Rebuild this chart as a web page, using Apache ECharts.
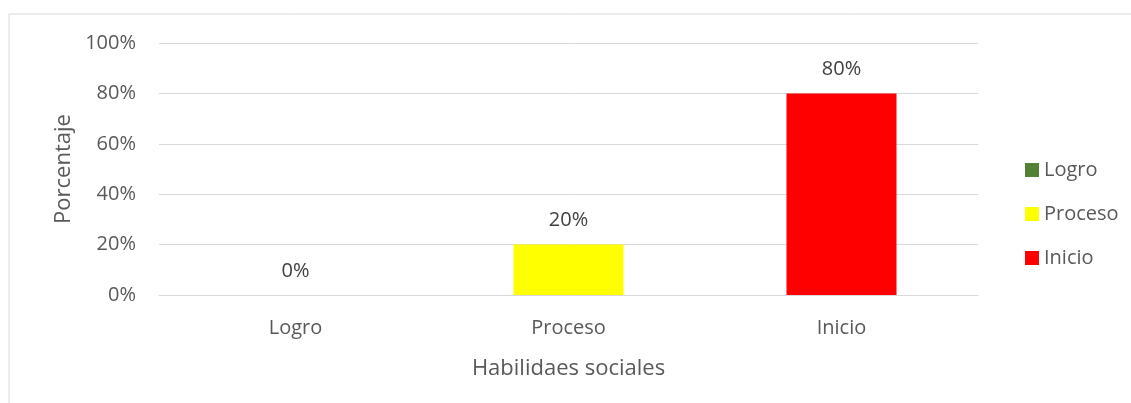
<!DOCTYPE html>
<html>
<head>
<meta charset="utf-8">
<script src="https://cdn.jsdelivr.net/npm/echarts@6/dist/echarts.min.js"></script>
<style>
  html, body { margin: 0; padding: 0; background: #fff; }
  #chart { width: 1131px; height: 403px; }
</style>
</head>
<body>
<div id="chart"></div>
<script>
const categories = ['Logro', 'Proceso', 'Inicio']
const values = [0, 20, 80]
const colors = ['#548235', '#ffff00', '#ff0000']
const yTicks = [0, 20, 40, 60, 80, 100]

const font = 'Open Sans'
const textColor = '#595959'

const chart = echarts.init(document.getElementById('chart'))

// one series per category so the legend gets an entry for each; stacked to keep bars centred
const series = categories.map((name, i) => ({
  name,
  type: 'bar',
  stack: 'all',
  barWidth: 110,
  itemStyle: { color: colors[i] },
  label: {
    show: true,
    position: 'top',
    distance: 14,
    formatter: p => p.value + '%',
    color: '#404040',
    fontFamily: font,
    fontSize: 20
  },
  data: categories.map((_, j) => (j === i ? values[i] : '-'))
}))

chart.setOption({
  animation: false,
  backgroundColor: '#fff',
  graphic: [{
    type: 'rect',
    shape: { x: 9, y: 14, width: 1140, height: 420 },
    style: { fill: 'none', stroke: '#d9d9d9', lineWidth: 1 },
    silent: true
  }],
  grid: { left: 159, right: 153, top: 43, bottom: 108 },
  legend: {
    orient: 'vertical',
    left: 1020,
    top: 155,
    itemWidth: 14,
    itemHeight: 14,
    itemGap: 24,
    icon: 'rect',
    textStyle: { color: textColor, fontFamily: font, fontSize: 20, lineHeight: 20, padding: [0, 0, 0, 0] },
    data: categories
  },
  xAxis: {
    type: 'category',
    data: categories,
    name: 'Habilidaes sociales',
    nameLocation: 'middle',
    nameGap: 63,
    nameTextStyle: { color: textColor, fontFamily: font, fontSize: 22 },
    axisLine: { lineStyle: { color: '#d9d9d9' } },
    axisTick: { show: false },
    axisLabel: { color: textColor, fontFamily: font, fontSize: 20, margin: 23 }
  },
  yAxis: {
    type: 'value',
    min: 0,
    max: 100,
    interval: 20,
    name: 'Porcentaje',
    nameLocation: 'middle',
    nameGap: 84,
    nameTextStyle: { color: textColor, fontFamily: font, fontSize: 22 },
    axisLine: { show: false },
    axisTick: { show: false },
    axisLabel: {
      color: textColor,
      fontFamily: font,
      fontSize: 20,
      margin: 23,
      formatter: v => (yTicks.includes(v) ? v + '%' : '')
    },
    splitLine: { lineStyle: { color: '#d9d9d9', width: 1 } }
  },
  series
})
</script>
</body>
</html>
